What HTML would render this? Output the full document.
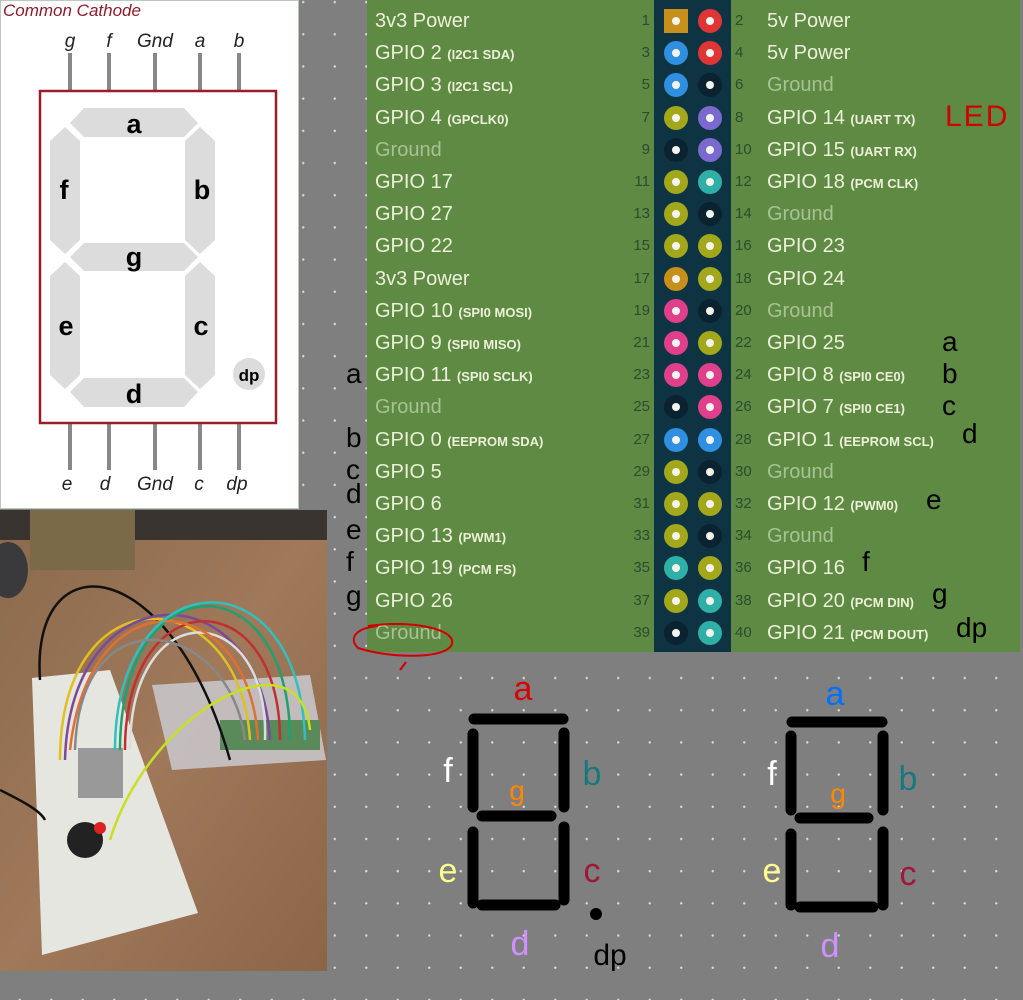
<!DOCTYPE html>
<html><head><meta charset="utf-8">
<style>
body{margin:0;width:1023px;height:1000px;overflow:hidden;position:relative;font-family:"Liberation Sans",sans-serif;
background-color:#7f7f7f;background-image:radial-gradient(circle,#d8d8d8 1px,transparent 1.4px);background-size:31.5px 32.2px;background-position:4px -14px;}
.abs{position:absolute}
#table{left:367px;top:0;width:653px;height:652px;background:#5e8a44}
#strip{left:654px;top:0;width:77px;height:652px;background:#0e3443}
.lbl{position:absolute;font-size:20px;color:#ecf0d8;white-space:nowrap;line-height:24px}
.lbl small{font-size:13px;font-weight:bold}
.gnd{color:#a9c294}
.num{position:absolute;font-size:15px;color:#2c4c2c;line-height:20px}
.hw{position:absolute;font-size:28px;color:#000;font-family:"Liberation Sans",sans-serif}
</style></head><body>
<div class="abs" id="table"></div>
<div class="abs" id="strip"></div>
<div id="rows"></div>

<svg class="abs" style="left:0;top:0" width="300" height="510">
<rect x="0.5" y="0.5" width="298" height="508" fill="#fff" stroke="#bcc8bc"/>
<text x="3" y="16" font-size="17" font-style="italic" fill="#8c1c2c" font-family="Liberation Sans">Common Cathode</text>
<g stroke="#888" stroke-width="4">
<line x1="70" y1="53" x2="70" y2="91"/><line x1="109" y1="53" x2="109" y2="91"/><line x1="155" y1="53" x2="155" y2="91"/><line x1="200" y1="53" x2="200" y2="91"/><line x1="239" y1="53" x2="239" y2="91"/>
<line x1="70" y1="423" x2="70" y2="470"/><line x1="109" y1="423" x2="109" y2="470"/><line x1="155" y1="423" x2="155" y2="470"/><line x1="200" y1="423" x2="200" y2="470"/><line x1="239" y1="423" x2="239" y2="470"/>
</g>
<rect x="40" y="91" width="236" height="332" fill="none" stroke="#9a1e2a" stroke-width="2.5"/>
<g fill="#dcdcdc">
<polygon points="70,123 84,108 184,108 198,123 184,137 84,137"/>
<polygon points="70,257 84,243 184,243 198,257 184,271 84,271"/>
<polygon points="70,392 84,378 184,378 198,392 184,407 84,407"/>
<polygon points="65,127 80,141 80,240 65,254 50,240 50,141"/>
<polygon points="200,127 215,141 215,240 200,254 185,240 185,141"/>
<polygon points="65,262 80,276 80,375 65,389 50,375 50,276"/>
<polygon points="200,262 215,276 215,375 200,389 185,375 185,276"/>
<circle cx="249" cy="374" r="16"/>
</g>
<g font-weight="bold" font-size="27" text-anchor="middle" font-family="Liberation Sans">
<text x="134" y="133">a</text><text x="134" y="266">g</text><text x="134" y="403">d</text>
<text x="64" y="199">f</text><text x="202" y="199">b</text><text x="66" y="335">e</text><text x="201" y="335">c</text>
<text x="249" y="381" font-size="17">dp</text></g>
<g font-style="italic" font-size="19" text-anchor="middle" fill="#222" font-family="Liberation Sans">
<text x="70" y="47">g</text><text x="109" y="47">f</text><text x="155" y="47">Gnd</text><text x="200" y="47">a</text><text x="239" y="47">b</text>
<text x="67" y="490">e</text><text x="105" y="490">d</text><text x="155" y="490">Gnd</text><text x="199" y="490">c</text><text x="237" y="490">dp</text></g>
</svg>

<svg class="abs" style="left:0;top:510px" width="327" height="461">
<defs><linearGradient id="wood" x1="0" y1="0" x2="1" y2="1"><stop offset="0" stop-color="#8a6a4c"/><stop offset="0.5" stop-color="#a0785a"/><stop offset="1" stop-color="#8c6448"/></linearGradient></defs>
<rect width="327" height="461" fill="url(#wood)"/>
<rect x="0" y="0" width="327" height="30" fill="#3a3430"/>
<rect x="30" y="0" width="105" height="60" fill="#7a6a48"/>
<ellipse cx="8" cy="60" rx="20" ry="28" fill="#3a3a3c"/>
<polygon points="32,168 110,160 198,403 42,445" fill="#e6e6e0"/>
<polygon points="152,175 310,165 326,250 172,260" fill="#c8c4c8" opacity="0.9"/>
<rect x="220" y="210" width="100" height="30" fill="#5a8a5a"/>
<rect x="78" y="238" width="45" height="50" fill="#999"/>
<circle cx="85" cy="330" r="18" fill="#222"/>
<circle cx="100" cy="318" r="6" fill="#d22"/>
<g fill="none" stroke-width="2.5">
<path d="M40,170 C30,30 170,40 230,250" stroke="#111"/>
<path d="M60,250 C60,60 240,70 250,230" stroke="#e0c020"/>
<path d="M65,250 C70,60 260,60 270,230" stroke="#7a4a9a"/>
<path d="M120,240 C120,50 290,50 290,230" stroke="#20a070"/>
<path d="M125,240 C125,70 280,70 280,230" stroke="#c03030"/>
<path d="M130,240 C130,80 270,90 265,230" stroke="#ddd"/>
<path d="M70,240 C90,60 250,80 258,230" stroke="#e07030"/>
<path d="M115,240 C115,50 300,40 305,230" stroke="#30c0c0"/>
<path d="M75,240 C80,80 230,110 245,230" stroke="#888"/>
<path d="M110,330 C150,200 300,120 310,220" stroke="#c8e020"/>
<path d="M0,280 C20,290 40,300 45,310" stroke="#111"/>
</g>
</svg>

<svg class="abs" style="left:420px;top:660px" width="560" height="340">
<g stroke="#000" stroke-width="11" stroke-linecap="round">
<line x1="54" y1="59" x2="143" y2="59"/><line x1="53" y1="74" x2="53" y2="147"/><line x1="144" y1="73" x2="144" y2="147"/>
<line x1="62" y1="156" x2="131" y2="156"/><line x1="53" y1="172" x2="53" y2="243"/><line x1="144" y1="167" x2="144" y2="240"/>
<line x1="62" y1="245" x2="135" y2="245"/>
<line x1="372" y1="62" x2="462" y2="62"/><line x1="371" y1="76" x2="371" y2="150"/><line x1="463" y1="76" x2="463" y2="150"/>
<line x1="380" y1="158" x2="448" y2="158"/><line x1="371" y1="174" x2="371" y2="245"/><line x1="463" y1="172" x2="463" y2="245"/>
<line x1="380" y1="247" x2="453" y2="247"/>
</g>
<circle cx="176" cy="254" r="6" fill="#000"/>
<g font-size="34" text-anchor="middle" font-family="Liberation Sans">
<text x="103" y="40" fill="#d80000">a</text><text x="28" y="122" fill="#fff">f</text><text x="172" y="125" fill="#187880">b</text>
<text x="97" y="140" fill="#ff8800" font-size="28">g</text><text x="28" y="222" fill="#ffff90">e</text><text x="172" y="222" fill="#a01838">c</text>
<text x="100" y="295" fill="#d090ff">d</text><text x="190" y="305" fill="#000" font-size="30">dp</text>
<text x="415" y="45" fill="#0070ff">a</text><text x="352" y="125" fill="#fff">f</text><text x="488" y="130" fill="#187880">b</text>
<text x="418" y="143" fill="#ff8800" font-size="28">g</text><text x="352" y="222" fill="#ffff90">e</text><text x="488" y="225" fill="#a01838">c</text>
<text x="410" y="297" fill="#d090ff">d</text>
</g>
</svg>

<div class="hw" style="left:945px;top:100px;color:#d00000;font-size:30px;letter-spacing:2px">LED</div>
<svg class="abs" style="left:348px;top:618px" width="112" height="56"><path d="M20,8 C60,2 108,10 104,26 C98,42 40,40 10,30 C0,20 8,10 30,8 M58,44 L52,52" fill="none" stroke="#d00000" stroke-width="2"/></svg>
<div id="hw"></div>

<script>
const leftPins=[["3v3 Power","","p33"],["GPIO 2","(I2C1 SDA)","i2c"],["GPIO 3","(I2C1 SCL)","i2c"],["GPIO 4","(GPCLK0)","gp"],["Ground","","gnd"],["GPIO 17","","gp"],["GPIO 27","","gp"],["GPIO 22","","gp"],["3v3 Power","","p33r"],["GPIO 10","(SPI0 MOSI)","spi"],["GPIO 9","(SPI0 MISO)","spi"],["GPIO 11","(SPI0 SCLK)","spi"],["Ground","","gnd"],["GPIO 0","(EEPROM SDA)","i2c"],["GPIO 5","","gp"],["GPIO 6","","gp"],["GPIO 13","(PWM1)","gp"],["GPIO 19","(PCM FS)","pcm"],["GPIO 26","","gp"],["Ground","","gnd"]];
const rightPins=[["5v Power","","p5"],["5v Power","","p5"],["Ground","","gnd"],["GPIO 14","(UART TX)","uart"],["GPIO 15","(UART RX)","uart"],["GPIO 18","(PCM CLK)","pcm"],["Ground","","gnd"],["GPIO 23","","gp"],["GPIO 24","","gp"],["Ground","","gnd"],["GPIO 25","","gp"],["GPIO 8","(SPI0 CE0)","spi"],["GPIO 7","(SPI0 CE1)","spi"],["GPIO 1","(EEPROM SCL)","i2c"],["Ground","","gnd"],["GPIO 12","(PWM0)","gp"],["Ground","","gnd"],["GPIO 16","","gp"],["GPIO 20","(PCM DIN)","pcm"],["GPIO 21","(PCM DOUT)","pcm"]];
const colors={p33:"#c8901a",p33r:"#c8901a",p5:"#e03535",i2c:"#2f8fe0",gp:"#a3a81a",gnd:"#0b2230",uart:"#7a6ad0",pcm:"#2fb0a6",spi:"#e03f8c"};
const rows=document.getElementById('rows');
function y(i){return 21+32.2*i;}
leftPins.forEach((p,i)=>{
  const d=document.createElement('div');d.className='lbl'+(p[2]=='gnd'?' gnd':'');
  d.style.left='375px';d.style.top=(y(i)-12)+'px';
  d.innerHTML=p[0]+(p[1]?' <small>'+p[1]+'</small>':'');
  
  rows.appendChild(d);
  const n=document.createElement('div');n.className='num';n.style.left='610px';n.style.width='40px';n.style.textAlign='right';n.style.top=(y(i)-10)+'px';n.textContent=2*i+1;
  
  rows.appendChild(n);
  const c=document.createElement('div');c.className='abs';
  const sq=p[2]=='p33';
  c.style.cssText='left:664px;top:'+(y(i)-12)+'px;width:24px;height:24px;border-radius:'+(sq?'0':'50%')+';background:'+colors[p[2]];
  c.innerHTML='<div style="position:absolute;left:8px;top:8px;width:8px;height:8px;border-radius:50%;background:#f4f4ee"></div>';
  
  rows.appendChild(c);
});
rightPins.forEach((p,i)=>{
  const d=document.createElement('div');d.className='lbl'+(p[2]=='gnd'?' gnd':'');
  d.style.left='767px';d.style.top=(y(i)-12)+'px';
  d.innerHTML=p[0]+(p[1]?' <small>'+p[1]+'</small>':'');
  
  rows.appendChild(d);
  const n=document.createElement('div');n.className='num';n.style.left='735px';n.style.top=(y(i)-10)+'px';n.textContent=2*i+2;
  
  rows.appendChild(n);
  const c=document.createElement('div');c.className='abs';
  c.style.cssText='left:698px;top:'+(y(i)-12)+'px;width:24px;height:24px;border-radius:50%;background:'+colors[p[2]];
  c.innerHTML='<div style="position:absolute;left:8px;top:8px;width:8px;height:8px;border-radius:50%;background:#f4f4ee"></div>';
  
  rows.appendChild(c);
});
const notes=[["a",346,358],["b",346,422],["c",346,454],["d",346,478],["e",346,514],["f",346,546],["g",346,580],
["a",942,326],["b",942,358],["c",942,390],["d",962,418],["e",926,484],["f",862,546],["g",932,578],["dp",956,612]];
const hw=document.getElementById('hw');
notes.forEach(n=>{const d=document.createElement('div');d.className='hw';d.textContent=n[0];d.style.left=n[1]+'px';d.style.top=n[2]+'px';

hw.appendChild(d);});
</script>
</body></html>
